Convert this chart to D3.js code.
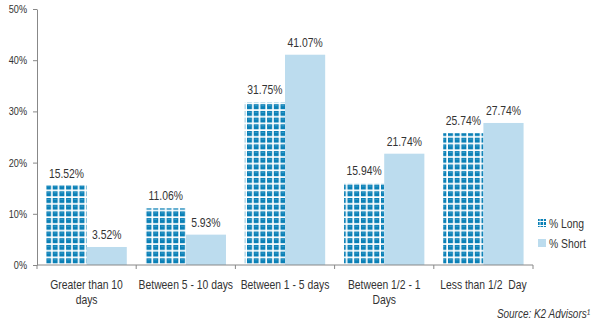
<!DOCTYPE html>
<html><head><meta charset="utf-8">
<script src="https://cdn.jsdelivr.net/npm/d3@7"></script>
<style>
body{margin:0;background:#fff;}
svg{display:block;font-family:"Liberation Sans",Arial,sans-serif;}
</style></head>
<body><svg id="c" width="596" height="324"></svg>
<script>
const categories = [["Greater than 10","days"],["Between 5 - 10 days"],["Between 1 - 5 days"],["Between 1/2 - 1","Days"],["Less than 1/2  Day"]];
const longVals = [15.52, 11.06, 31.75, 15.94, 25.74];
const shortVals = [3.52, 5.93, 41.07, 21.74, 27.74];
const seriesNames = ["% Long", "% Short"];
const yTicks = [0, 10, 20, 30, 40, 50];

const SX = 0.83; // horizontal condensing to mimic a narrow face
const svg = d3.select("#c");
const m = {l:37, r:63, t:9, b:59};
const W = 596, H = 324;
const x0 = d3.scaleBand().domain(d3.range(categories.length)).range([m.l, W - m.r]).paddingInner(0.19).paddingOuter(0.095);
const xb = d3.scaleBand().domain(d3.range(categories.length)).range([m.l, W - m.r]);
const y = d3.scaleLinear().domain([0, 50]).range([H - m.b, m.t]);

function T(parent, x, yy, txt, size, anchor, extra) {
  const t = parent.append("text")
    .attr("transform", `translate(${x},${yy}) scale(${SX},1)`)
    .attr("text-anchor", anchor || "start").attr("font-size", size).attr("fill", "#333")
    .style("white-space", "pre").text(txt);
  if (extra) extra(t);
  return t;
}

const defs = svg.append("defs");
const p = defs.append("pattern").attr("id","grid").attr("patternUnits","userSpaceOnUse")
  .attr("width",6.7).attr("height",6.7).attr("x",m.l+9).attr("y",H-m.b);
p.append("rect").attr("width",6.7).attr("height",6.7).attr("fill","#ffffff");
p.append("rect").attr("x",0).attr("y",0).attr("width",5).attr("height",5).attr("fill","#0a80b6");
p.append("rect").attr("x",1).attr("y",1).attr("width",3).attr("height",1).attr("fill","#3a9ccb");

const g = svg.append("g");
const xs = d3.scaleBand().domain([0,1]).range([0, x0.bandwidth()]);
const colors = ["url(#grid)", "#bcdcee"];
[longVals, shortVals].forEach((vals, si) => {
  g.selectAll(null).data(vals).enter().append("rect")
    .attr("x", (d,i) => x0(i) + xs(si))
    .attr("y", d => y(d))
    .attr("width", xs.bandwidth())
    .attr("height", d => y(0) - y(d))
    .attr("fill", colors[si]);
  vals.forEach((d, i) => T(g, x0(i) + xs(si) + xs.bandwidth()/2, y(d) - 8, d.toFixed(2) + "%", 12.5, "middle"));
});

// y axis
const ya = svg.append("g").attr("transform",`translate(${m.l},0)`)
  .call(d3.axisLeft(y).tickValues(yTicks).tickSize(4).tickSizeOuter(0).tickFormat(""));
ya.select(".domain").attr("stroke","#888");
ya.selectAll(".tick line").attr("stroke","#888");
yTicks.forEach(v => T(svg, m.l - 10, y(v) + 4, v + "%", 11, "end"));

// x axis
const xa = svg.append("g").attr("transform",`translate(0,${y(0)})`);
xa.append("line").attr("x1",m.l).attr("x2",W-m.r).attr("stroke","#888");
const bounds = d3.range(categories.length+1).map(i => i < categories.length ? xb(i) : xb(i-1)+xb.bandwidth());
xa.selectAll(null).data(bounds).enter().append("line")
  .attr("x1",d=>d).attr("x2",d=>d).attr("y1",0).attr("y2",4).attr("stroke","#888");
categories.forEach((lines, i) => {
  lines.forEach((l, j) => T(xa, xb(i) + xb.bandwidth()/2, 24 + j*15, l, 12.5, "middle"));
});

// legend
const lg = svg.append("g").attr("transform","translate(538,219)");
const pl = defs.append("pattern").attr("id","gridl").attr("patternUnits","userSpaceOnUse")
  .attr("width",3.5).attr("height",4).attr("x",538).attr("y",219);
pl.append("rect").attr("width",3.5).attr("height",4).attr("fill","#fff");
pl.append("rect").attr("width",2.7).attr("height",3).attr("fill","#0a80b6");
seriesNames.forEach((n, i) => {
  const r = lg.append("g").attr("transform",`translate(0,${i*20})`);
  r.append("rect").attr("width",8).attr("height",8).attr("fill", i === 0 ? "url(#gridl)" : colors[1]);
  T(r, 11, 9, n, 12.5, "start");
});

// source
T(svg, 590, 318, "Source: K2 Advisors\u00B9", 12, "end", t => t.attr("font-style","italic"));
</script></body></html>
